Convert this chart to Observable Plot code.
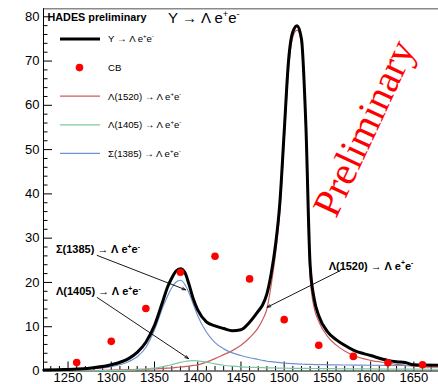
<!DOCTYPE html>
<html>
<head>
<meta charset="utf-8">
<script src="https://cdn.jsdelivr.net/npm/d3@7"></script>
<script src="https://cdn.jsdelivr.net/npm/@observablehq/plot@0.6"></script>
<style>
  body { margin: 0; background: #fff; }
  #chart { width: 438px; height: 384px; }
  #chart svg { display: block; }
</style>
</head>
<body>
<div id="chart"></div>
<script>
// Invariant-mass grid (MeV/c^2) on which the model curves are sampled
const mass = [1222, 1240, 1260, 1280, 1300, 1320, 1330, 1340, 1350, 1360, 1365, 1370, 1375, 1380, 1385,
  1390, 1395, 1400, 1410, 1420, 1430, 1440, 1450, 1460, 1470, 1475, 1480, 1485, 1490, 1495, 1500,
  1505, 1510, 1515, 1520, 1525, 1530, 1535, 1540, 1550, 1560, 1570, 1580, 1600, 1620, 1630, 1640, 1650, 1678];

// Y -> Lambda e+e- (sum of all contributions)
const totalYield = [0.2, 0.3, 0.45, 0.75, 1.4, 2.8, 4.2, 6.5, 10.3, 16.0, 18.9, 21.0, 22.6, 23.1, 22.3,
  19.5, 16.2, 13.8, 11.1, 10.2, 9.6, 9.1, 9.3, 11.0, 13.5, 14.9, 17.4, 22.0, 28.5, 38, 54,
  70, 76.6, 78, 75, 56, 24, 16, 12.5, 8.9, 7.1, 5.8, 4.7, 3.5, 2.4, 2.1, 1.9, 1.4, 1.3];

// Lambda(1520) -> Lambda e+e-
const l1520Yield = [0, 0.02, 0.05, 0.1, 0.2, 0.3, 0.35, 0.4, 0.5, 0.6, 0.65, 0.7, 0.8, 0.9, 1.0,
  1.1, 1.25, 1.4, 2.0, 2.8, 3.7, 4.6, 5.8, 7.5, 9.8, 11.6, 14.0, 19.5, 26.5, 36, 52,
  68, 75.5, 77, 74, 54, 21, 14, 11.2, 7.8, 5.9, 4.5, 3.5, 2.4, 1.8, 1.5, 1.3, 1.1, 0.85];

// Lambda(1405) -> Lambda e+e-
const l1405Yield = [0, 0, 0.02, 0.05, 0.1, 0.2, 0.3, 0.45, 0.65, 1.0, 1.2, 1.45, 1.7, 1.95, 2.15,
  2.3, 2.35, 2.3, 2.0, 1.6, 1.3, 1.1, 0.95, 0.85, 0.8, 0.75, 0.72, 0.7, 0.68, 0.66, 0.64,
  0.62, 0.61, 0.6, 0.59, 0.58, 0.57, 0.56, 0.55, 0.53, 0.51, 0.5, 0.48, 0.46, 0.44, 0.43, 0.42, 0.41, 0.4];

// Sigma(1385) -> Lambda e+e-
const s1385Yield = [0.1, 0.15, 0.3, 0.55, 1.0, 2.1, 3.2, 5.3, 9.3, 14.6, 16.9, 18.8, 20.1, 20.5, 19.6,
  17.6, 15.0, 12.5, 8.8, 6.4, 5.0, 4.1, 3.5, 3.0, 2.6, 2.4, 2.2, 2.1, 2.0, 1.9, 1.8,
  1.7, 1.65, 1.6, 1.55, 1.5, 1.5, 1.45, 1.45, 1.4, 1.38, 1.36, 1.34, 1.3, 1.28, 1.26, 1.25, 1.24, 1.22];

// CB points
const cbMass = [1260, 1300, 1340, 1380, 1420, 1460, 1500, 1540, 1580, 1620, 1660];
const cbYield = [1.9, 6.7, 14.1, 22.3, 25.9, 20.8, 11.6, 5.8, 3.3, 1.85, 1.4];

// Axis ticks
const xTicks = [1250, 1300, 1350, 1400, 1450, 1500, 1550, 1600, 1650];
const yTicks = [0, 10, 20, 30, 40, 50, 60, 70, 80];
const xMinor = d3.range(1230, 1680, 10).filter(v => v % 50 !== 0);
const yMinor = d3.range(2, 81, 2).filter(v => v % 10 !== 0);

const xDomain = [1221.6, 1678.5];
const yDomain = [0, 81.8];

// Series styling
const series = [
  {key: "total", label: "Y \u2192 \u039B e^{+}e^{-}", values: totalYield, color: "#000000", width: 3},
  {key: "l1520", label: "\u039B(1520) \u2192 \u039B e^{+}e^{-}", values: l1520Yield, color: "#cc5c5c", width: 1.2},
  {key: "l1405", label: "\u039B(1405) \u2192 \u039B e^{+}e^{-}", values: l1405Yield, color: "#7fc7a2", width: 1.2},
  {key: "s1385", label: "\u03A3(1385) \u2192 \u039B e^{+}e^{-}", values: s1385Yield, color: "#6f93cf", width: 1.2}
];
const rowsOf = s => mass.map((m, i) => ({mass: m, value: s.values[i]}));
const cbRows = cbMass.map((m, i) => ({mass: m, value: cbYield[i]}));

// Arrow annotations, in data coordinates
const notes = [
  {text: "\u03A3(1385) \u2192 \u039B e^{+}e^{-}", lx: 1236.6, ly: 26.5, x1: 1283.7, y1: 26.1, x2: 1385.9, y2: 18.35},
  {text: "\u039B(1405) \u2192 \u039B e^{+}e^{-}", lx: 1236.6, ly: 17.0, x1: 1283.7, y1: 16.6, x2: 1389.3, y2: 2.82},
  {text: "\u039B(1520) \u2192 \u039B e^{+}e^{-}", lx: 1552.0, ly: 22.7, x1: 1565.2, y1: 22.7, x2: 1480.4, y2: 14.4}
];

const W = 438, H = 384, mL = 43, mR = 0, mT = 8.3, mB = 13.5;
const innerW = W - mL - mR, innerH = H - mT - mB;

const byKey = Object.fromEntries(series.map(s => [s.key, s]));
const curve = s => Plot.line(rowsOf(s), {x: "mass", y: "value", stroke: s.color, strokeWidth: s.width, curve: "monotone-x"});

const plot = Plot.plot({
  width: W, height: H,
  marginLeft: mL, marginRight: mR, marginTop: mT, marginBottom: mB,
  style: {fontFamily: "'Liberation Sans', Arial, sans-serif", fontSize: "13px", background: "#fff", color: "#000"},
  x: {domain: xDomain, ticks: xTicks, tickSize: 0, tickPadding: 2, tickFormat: d => String(d), label: null},
  y: {domain: yDomain, ticks: yTicks, tickSize: 0, tickPadding: 4, tickFormat: d => String(d), label: null},
  marks: [
    // inward ticks, ROOT style
    Plot.tickX(xMinor, {x: d => d, insetTop: innerH - 4.5, stroke: "#000"}),
    Plot.tickX(xTicks, {x: d => d, insetTop: innerH - 9, stroke: "#000"}),
    Plot.tickY(yMinor, {y: d => d, insetRight: innerW - 4.5, stroke: "#000"}),
    Plot.tickY(yTicks, {y: d => d, insetRight: innerW - 9, stroke: "#000"}),
    // frame
    Plot.ruleY([yDomain[1]], {stroke: "#8a8a8a", strokeWidth: 1.6}),
    Plot.ruleX([xDomain[0]], {stroke: "#000"}),
    Plot.ruleY([0], {stroke: "#000"}),
    // components and total
    curve(byKey.l1520),
    curve(byKey.l1405),
    curve(byKey.s1385),
    curve(byKey.total),
    // CB points
    Plot.dot(cbRows, {x: "mass", y: "value", r: 3.8, fill: "#ff0000", stroke: null}),
    // annotation arrows
    Plot.arrow(notes, {x1: "x1", y1: "y1", x2: "x2", y2: "y2", stroke: "#000", strokeWidth: 0.9, headLength: 6, headAngle: 40})
  ]
});
document.getElementById("chart").appendChild(plot);

// Rich text: ^{...} becomes a superscript, the arrow is drawn in normal weight
function richText(sel, str, size, weight) {
  const re = /\^\{([^}]*)\}|\u2192/g;
  let last = 0, raised = 0, m;
  const plain = (t, w) => {
    if (!t) return;
    const ts = sel.append("tspan").attr("font-weight", w).text(t);
    if (raised) ts.attr("dy", raised);
    raised = 0;
  };
  while ((m = re.exec(str))) {
    plain(str.slice(last, m.index), weight);
    if (m[0] === "\u2192") {
      plain("\u2192", "normal");
    } else {
      const up = 0.42 * size;
      sel.append("tspan").attr("dy", -up + raised).attr("font-size", size * 0.62)
        .attr("font-weight", weight).text(m[1]);
      raised = up;
    }
    last = re.lastIndex;
  }
  plain(str.slice(last), weight);
}

const svg = d3.select(plot);
const sx = plot.scale("x"), sy = plot.scale("y");
const font = "'Liberation Sans', Arial, sans-serif";
const overlay = svg.append("g").attr("font-family", font).attr("fill", "#000").attr("text-anchor", "start");

// Header
overlay.append("text").attr("x", 47.5).attr("y", 20.6).attr("font-size", 10.8).attr("font-weight", "bold")
  .text("HADES preliminary");
richText(overlay.append("text").attr("x", 168).attr("y", 23.3).attr("font-size", 15),
  "Y \u2192 \u039B e^{+}e^{-}", 15, "normal");

// Legend
const legendItems = [
  {label: byKey.total.label, kind: "line", color: byKey.total.color, width: 3},
  {label: "CB", kind: "dot", color: "#ff0000"},
  {label: byKey.l1520.label, kind: "line", color: byKey.l1520.color, width: 1.2},
  {label: byKey.l1405.label, kind: "line", color: byKey.l1405.color, width: 1.2},
  {label: byKey.s1385.label, kind: "line", color: byKey.s1385.color, width: 1.2}
];
legendItems.forEach((d, i) => {
  const y = 39 + i * 28.6;
  if (d.kind === "line") {
    overlay.append("line").attr("x1", 60).attr("x2", 100).attr("y1", y).attr("y2", y)
      .attr("stroke", d.color).attr("stroke-width", d.width);
  } else {
    overlay.append("circle").attr("cx", 79.5).attr("cy", y).attr("r", 3.8).attr("fill", d.color);
  }
  richText(overlay.append("text").attr("x", 108).attr("y", y + 3.4).attr("font-size", 9.6),
    d.label, 9.6, "normal");
});

// Annotation labels
notes.forEach(n => {
  richText(overlay.append("text").attr("x", sx.apply(n.lx)).attr("y", sy.apply(n.ly)).attr("font-size", 11),
    n.text, 11, "bold");
});

// Watermark
overlay.append("text")
  .attr("transform", "translate(364,128) rotate(-65)")
  .attr("text-anchor", "middle").attr("dy", "0.33em")
  .attr("font-family", "'Liberation Serif', 'Times New Roman', serif")
  .attr("font-size", 40).attr("fill", "#ff0000")
  .text("Preliminary");
</script>
</body>
</html>
